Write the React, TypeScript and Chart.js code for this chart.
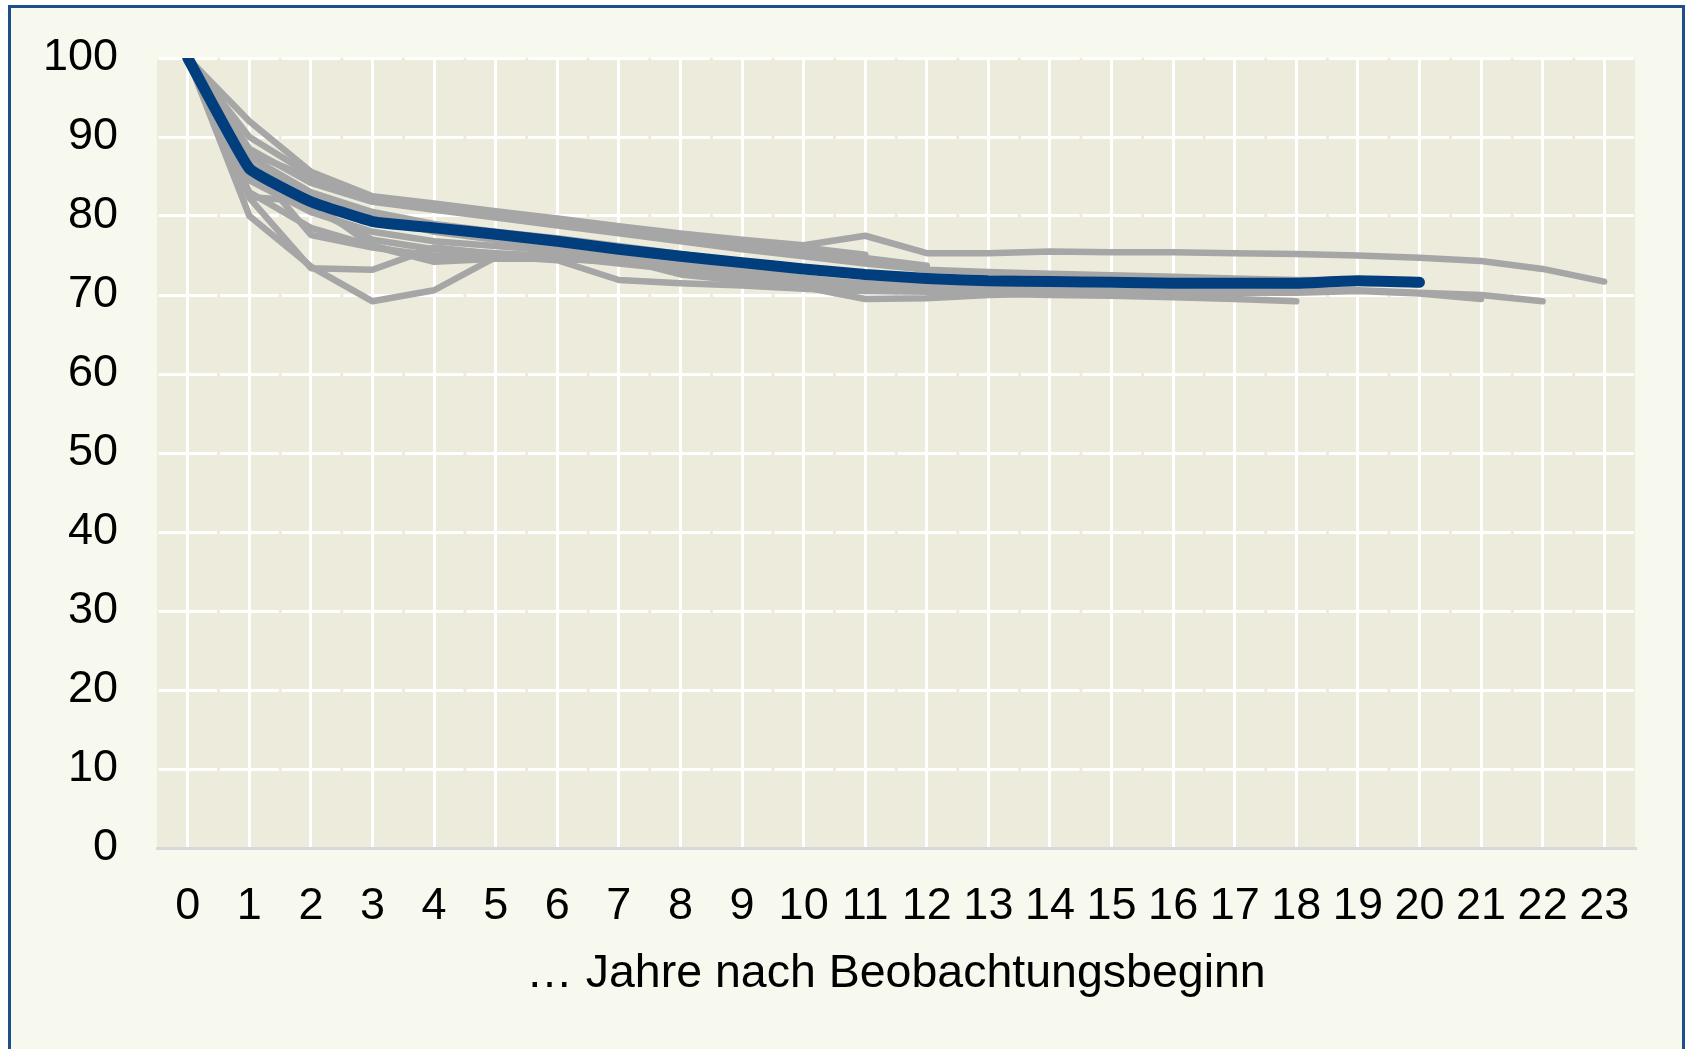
import React, { useEffect, useRef } from 'react';
import { Chart, registerables } from 'chart.js';

Chart.register(...registerables);

const years = ['0','1','2','3','4','5','6','7','8','9','10','11','12','13','14','15','16','17','18','19','20','21','22','23'];
const axisTitle = '… Jahre nach Beobachtungsbeginn';

const average = [100, 86.0, 81.8, 79.3, 78.5, 77.7, 76.8, 75.8, 74.9, 74.1, 73.3, 72.6, 72.1, 71.8, 71.7, 71.6, 71.5, 71.5, 71.5, 71.8, 71.6];

const cohort23 = [100, 92.0, 85.6, 82.5, 81.6, 80.6, 79.7, 78.7, 77.8, 77.0, 76.3, 77.5, 75.3, 75.3, 75.5, 75.4, 75.4, 75.3, 75.2, 75.0, 74.7, 74.3, 73.3, 71.7];
const cohort22 = [100, 86.5, 82.5, 80.0, 78.0, 77.0, 76.2, 75.2, 74.2, 73.2, 72.2, 71.4, 71.0, 70.8, 70.6, 70.5, 70.4, 70.4, 70.4, 70.6, 70.3, 70.0, 69.2];
const cohort21 = [100, 84.5, 80.5, 78.0, 76.8, 76.2, 75.6, 74.6, 73.2, 72.2, 71.5, 70.8, 70.5, 70.4, 70.4, 70.4, 70.4, 70.3, 70.3, 70.5, 70.2, 69.5];
const cohort20 = [100, 88.5, 84.2, 81.8, 80.8, 79.8, 78.8, 77.8, 76.8, 75.8, 74.9, 74.0, 73.2, 72.9, 72.7, 72.5, 72.3, 72.1, 71.9, 71.9, 71.7];
const cohort19 = [100, 86.8, 77.6, 76.0, 75.0, 75.0, 74.9, 74.6, 72.6, 71.8, 71.0, 69.5, 69.6, 70.0, 70.2, 70.3, 70.3, 70.3, 70.5, 70.6];
const cohort18 = [100, 85.0, 81.0, 77.0, 75.8, 75.3, 74.9, 74.3, 73.4, 72.4, 71.5, 71.0, 70.5, 70.2, 70.0, 69.9, 69.7, 69.5, 69.2];
const cohort17 = [100, 82.3, 73.4, 73.2, 76.0, 75.2, 74.8, 74.0, 73.2, 72.2, 71.4, 71.0, 70.6, 70.4, 70.3, 70.2, 70.2, 70.1];
const cohort16 = [100, 80.0, 73.6, 69.2, 70.6, 74.8, 74.6, 74.3, 73.5, 72.5, 71.5, 71.0, 70.7, 70.5, 70.4, 70.3, 70.3];
const cohort15 = [100, 87.5, 83.0, 80.5, 79.0, 78.0, 77.2, 76.2, 75.2, 74.2, 73.2, 72.6, 72.1, 71.8, 71.6, 71.5];
const cohort14 = [100, 83.0, 78.5, 76.2, 74.5, 74.9, 74.4, 71.9, 71.5, 71.2, 70.8, 70.5, 70.4, 70.4, 70.4];
const cohort13 = [100, 82.4, 81.8, 76.2, 74.2, 74.6, 74.6, 74.2, 73.4, 72.6, 71.9, 71.5, 71.2, 71.0];
const cohort12 = [100, 88.0, 84.8, 82.0, 81.0, 80.2, 79.2, 78.2, 77.2, 76.3, 75.5, 74.7, 73.7];
const cohort11 = [100, 90.0, 85.2, 82.3, 81.3, 80.4, 79.5, 78.5, 77.6, 76.8, 76.0, 75.1];

const grayCohorts = [cohort23, cohort22, cohort21, cohort20, cohort19, cohort18, cohort17, cohort16, cohort15, cohort14, cohort13, cohort12, cohort11];

const W = 1685;
const H = 1049;
const FONT = "'Liberation Sans', Arial, sans-serif";

const plotBg = {
  id: 'plotBg',
  beforeDraw(chart: any) {
    const { ctx, chartArea } = chart;
    ctx.save();
    ctx.fillStyle = '#EDECDC';
    ctx.fillRect(chartArea.left, chartArea.top, chartArea.right - chartArea.left, chartArea.bottom - chartArea.top);
    ctx.restore();
  },
};

export default function App() {
  const ref = useRef<HTMLCanvasElement | null>(null);

  useEffect(() => {
    if (!ref.current) return;
    const datasets: any[] = [
      {
        label: 'Durchschnitt',
        data: average,
        borderColor: '#003E7E',
        borderWidth: 11,
        borderCapStyle: 'round',
        borderJoinStyle: 'round',
        pointRadius: 0,
        tension: 0.1,
        order: 0,
      },
      ...grayCohorts.map((d, i) => ({
        label: 'Kohorte ' + i,
        data: d,
        borderColor: '#A6A6A6',
        borderWidth: 6.5,
        borderCapStyle: 'round',
        borderJoinStyle: 'round',
        pointRadius: 0,
        tension: 0,
        order: 1,
      })),
    ];
    const chart = new Chart(ref.current, {
      type: 'line',
      data: { labels: years, datasets },
      plugins: [plotBg],
      options: {
        responsive: false,
        animation: false,
        devicePixelRatio: 1,
        layout: { autoPadding: false, padding: { left: 0, top: 58, right: 50, bottom: 0 } },
        plugins: { legend: { display: false }, tooltip: { enabled: false } },
        scales: {
          x: {
            offset: true,
            grid: { color: '#FFFFFF', lineWidth: 3, drawTicks: false, offset: false },
            border: { display: true, color: '#D9D9D9', width: 3 },
            ticks: {
              color: '#000000',
              font: { family: FONT, size: 45 },
              padding: 32,
              autoSkip: false,
              maxRotation: 0,
            },
            title: {
              display: true,
              text: axisTitle,
              color: '#000000',
              font: { family: FONT, size: 46.5 },
              padding: { top: 0, bottom: 46.5 },
            },
            afterFit(scale: any) {
              scale.height = H - 848;
            },
          },
          y: {
            min: 0,
            max: 100,
            ticks: {
              stepSize: 10,
              color: '#000000',
              font: { family: FONT, size: 45 },
              padding: 0,
            },
            grid: {
              color: '#FFFFFF',
              lineWidth: 3,
              drawTicks: true,
              tickLength: 39,
              tickColor: 'rgba(0,0,0,0)',
            },
            border: { display: false, dash: [58.6, 3], dashOffset: -1.5 },
            afterFit(scale: any) {
              scale.width = 157;
            },
          },
        },
      },
    });
    return () => chart.destroy();
  }, []);

  return (
    <>
      <div
        style={{
          position: 'fixed',
          left: 8,
          top: 5,
          width: W - 8,
          height: H + 20,
          boxSizing: 'border-box',
          border: '3px solid #1F4E8A',
          background: '#F8F9EE',
        }}
      />
      <canvas
        ref={ref}
        width={W}
        height={H}
        style={{ position: 'fixed', left: 0, top: 0, width: W, height: H }}
      />
    </>
  );
}
